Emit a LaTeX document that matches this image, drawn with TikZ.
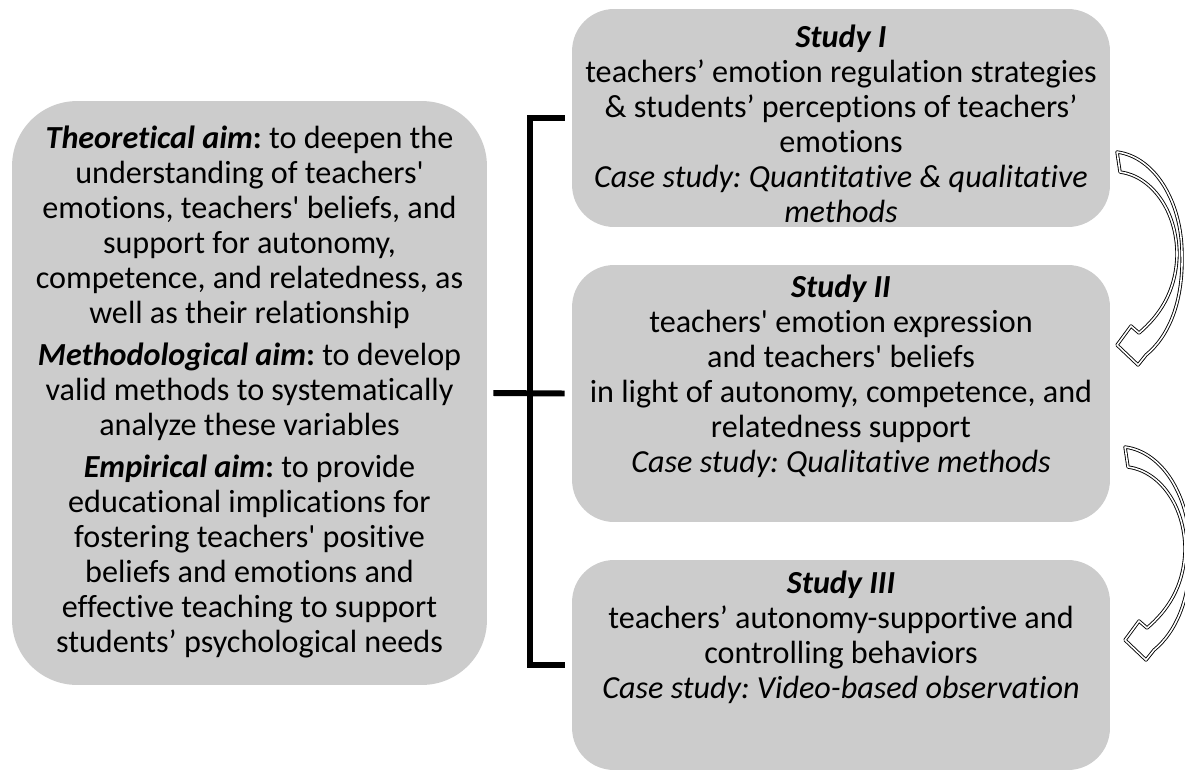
\documentclass[tikz,border=0pt]{standalone}
\usepackage{fontspec}
\setmainfont{Carlito}[Ligatures={TeX,NoCommon}]
\usepackage{tikz}
\usetikzlibrary{positioning}
\frenchspacing

\newcommand{\aim}[1]{\textbf{\textit{#1}}\textbf{:}}
\newcommand{\studyhead}[1]{\textbf{\textit{#1}}}
\newcommand{\sq}{\textquotesingle}

% hollow bent arrow, tail corner at #1
\newcommand{\bentarrow}[1]{%
  \begin{scope}[shift={#1}]
    \draw [hollow] (0,0) .. controls (38,5) and (65,50) .. (65,103)
      .. controls (66,150) and (52,184) .. (29,203)
      -- (21,213) -- (0,193) -- (14,174) -- (22,181)
      .. controls (42,164) and (59,140) .. (60,103)
      .. controls (60,58) and (34,24) .. (3,20) -- cycle;
  \end{scope}}

\begin{document}
\begin{tikzpicture}[x=0.02cm, y=-0.02cm,
  panel/.style={fill=black!20, rounded corners=0.84cm, inner sep=0pt},
  txt/.style={align=center, font=\fontsize{18.3}{19.9}\selectfont, inner sep=0pt},
  brace/.style={line width=3.4pt},
  hollow/.style={draw=black, line width=0.5pt, double=white, double distance=0.9pt, fill=white, line join=round}]
\useasboundingbox (0,0) rectangle (1185,771);

\node [panel, rounded corners=1.3cm, minimum width=9.5cm, minimum height=11.68cm] (aims) at (249.5,393) {};
\node [panel, minimum width=10.76cm, minimum height=4.36cm] (studyI) at (841,118) {};
\node [panel, minimum width=10.76cm, minimum height=5.14cm] (studyII) at (841,393.5) {};
\node [panel, minimum width=10.76cm, minimum height=4.2cm] (studyIII) at (841,665) {};

\node [txt] (aimstxt) at (249.5,392) {\aim{Theoretical aim} to deepen the\\
understanding of teachers\sq\\
emotions, teachers\sq{} beliefs, and\\
support for autonomy,\\
competence, and relatedness, as\\
well as their relationship\\[4pt]
\aim{Methodological aim} to develop\\
valid methods to systematically\\
analyze these variables\\[4pt]
\aim{Empirical aim} to provide\\
educational implications for\\
fostering teachers\sq{} positive\\
beliefs and emotions and\\
effective teaching to support\\
students’ psychological needs};

\node [txt] (studyItxt) at (841,124) {\studyhead{Study I}\\
teachers’ emotion regulation strategies\\
\& students’ perceptions of teachers’\\
emotions\\
\textit{Case study: Quantitative \& qualitative}\\
\textit{methods}};

\node [txt] (studyIItxt) at (841,376) {\studyhead{Study II}\\
teachers\sq{} emotion expression\\
and teachers\sq{} beliefs\\
in light of autonomy, competence, and\\
relatedness support\\
\textit{Case study: Qualitative methods}};

\node [txt] (studyIIItxt) at (841,637) {\studyhead{Study III}\\
teachers’ autonomy-supportive and\\
controlling behaviors\\
\textit{Case study: Video-based observation}};

% bracket
\draw [brace] ([xshift=-0.14cm]studyI.west) -- ++(-0.7cm,0) |- ([xshift=-0.14cm]studyIII.west);
\draw [brace] ([xshift=0.12cm]aims.east) -- ([xshift=-0.14cm]studyII.west);

% arrows between studies
\bentarrow{(1117,152)}
\bentarrow{(1125,447)}
\end{tikzpicture}
\end{document}
